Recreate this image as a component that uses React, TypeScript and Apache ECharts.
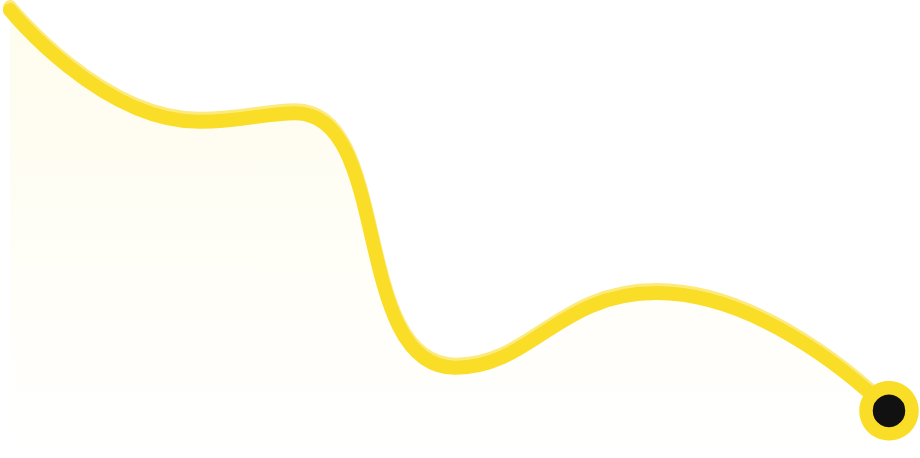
import React, { useEffect, useRef } from "react";
import * as echarts from "echarts";

const xValues: number[] = [0, 21.6, 32.5, 50.7, 73.5, 100];
const yValues: number[] = [97.8, 73.4, 75.3, 19.7, 36.0, 10.3];

export default function App() {
  const ref = useRef<HTMLDivElement>(null);
  useEffect(() => {
    if (!ref.current) return;
    const chart = echarts.init(ref.current, null, { renderer: "svg" });
    const data = xValues.map((x, i) => [x, yValues[i]]);
    const last = data[data.length - 1];
    chart.setOption({
      animation: false,
      grid: { left: 10, right: 31, top: 0, bottom: 0 },
      xAxis: { type: "value", min: 0, max: 100, show: false },
      yAxis: { type: "value", min: 0, max: 100, show: false },
      series: [
        {
          type: "line",
          data,
          smooth: 0.5,
          showSymbol: false,
          lineStyle: {
            color: "#F9DD26",
            width: 14,
            cap: "round",
            join: "round",
            shadowColor: "#FCEA7A",
            shadowBlur: 0,
            shadowOffsetY: -3,
          },
          areaStyle: {
            color: new echarts.graphic.LinearGradient(0, 0, 0, 1, [
              { offset: 0, color: "rgba(250,222,40,0.12)" },
              { offset: 1, color: "rgba(250,222,40,0)" },
            ]),
          },
          z: 2,
        },
        {
          type: "scatter",
          data: [last],
          symbol: "circle",
          symbolSize: 46,
          itemStyle: { color: "#111111", borderColor: "#F9DD26", borderWidth: 13.5, opacity: 1 },
          z: 3,
        },
      ],
    });
    return () => chart.dispose();
  }, []);
  return <div ref={ref} style={{ width: 920, height: 458, position: "absolute", left: 0, top: 0 }} />;
}
